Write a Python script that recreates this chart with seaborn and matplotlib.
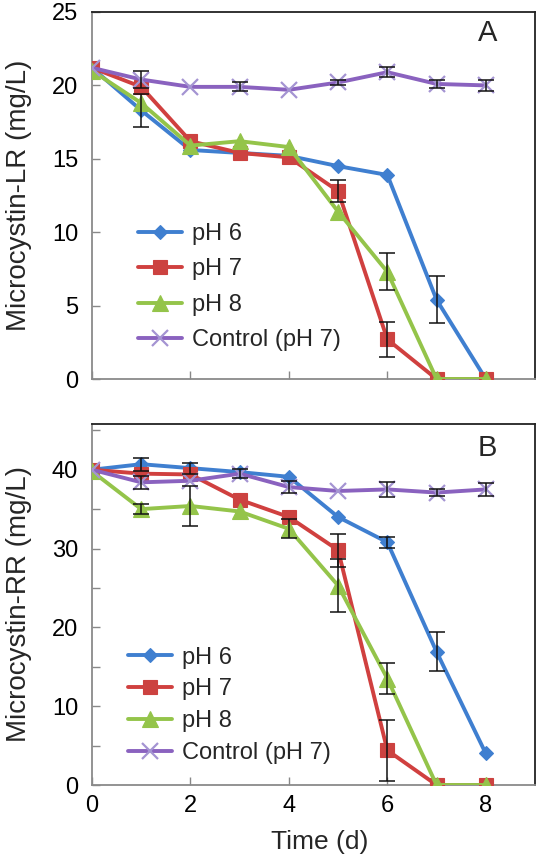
import numpy as np
import pandas as pd
import seaborn as sns
import matplotlib
matplotlib.use("Agg")
import matplotlib.pyplot as plt
from matplotlib.ticker import MultipleLocator

# ---------------- data ----------------
days = [0, 1, 2, 3, 4, 5, 6, 7, 8]
series_names = ["pH 6", "pH 7", "pH 8", "Control (pH 7)"]
legend_labels = ["pH 6", "pH 7", "pH 8", "Control (pH 7)"]

# Panel A: Microcystin-LR (mg/L)
lr_ph6 = [21.2, 18.3, 15.6, 15.4, 15.2, 14.5, 13.9, 5.4, 0.0]
lr_ph7 = [21.2, 19.9, 16.2, 15.4, 15.1, 12.8, 2.7, 0.0, 0.0]
lr_ph8 = [21.0, 18.8, 15.9, 16.2, 15.8, 11.4, 7.3, 0.0, 0.0]
lr_ctrl = [21.2, 20.4, 19.9, 19.9, 19.7, 20.2, 20.9, 20.1, 20.0]

lr_ph6_err = [0, 1.1, 0, 0, 0, 0, 0, 1.6, 0]
lr_ph7_err = [0, 0, 0, 0, 0, 0.75, 1.2, 0, 0]
lr_ph8_err = [0, 0, 0, 0, 0, 0, 1.25, 0, 0]
lr_ctrl_err = [0, 0.6, 0, 0.3, 0, 0.2, 0.35, 0.25, 0.35]

# Panel B: Microcystin-RR (mg/L)
rr_ph6 = [40.0, 40.7, 40.2, 39.7, 39.1, 34.0, 30.8, 16.9, 4.0]
rr_ph7 = [40.0, 39.5, 39.4, 36.2, 34.0, 29.8, 4.4, 0.0, 0.0]
rr_ph8 = [39.8, 35.0, 35.4, 34.7, 32.5, 25.3, 13.5, 0.0, 0.0]
rr_ctrl = [40.0, 38.4, 38.6, 39.5, 37.8, 37.3, 37.5, 37.1, 37.5]

rr_ph6_err = [0, 0.8, 0.7, 0, 0, 0, 0.7, 2.5, 0]
rr_ph7_err = [0, 0, 0, 0, 0, 2.1, 3.9, 0, 0]
rr_ph8_err = [0, 0.6, 2.5, 0, 1.2, 3.4, 2.0, 0, 0]
rr_ctrl_err = [0, 0.8, 0, 0.6, 0.8, 0, 0.9, 0.4, 0.8]

panel_letters = ["A", "B"]
y_labels = ["Microcystin-LR (mg/L)", "Microcystin-RR (mg/L)"]
x_label = "Time (d)"
x_ticks = [0, 2, 4, 6, 8]

# ---------------- style ----------------
sns.set_theme(style="white")
plt.rcParams["font.family"] = ["Liberation Sans", "DejaVu Sans"]

colors = ["#3f7fd0", "#d0403f", "#94c44a", "#8a62bf"]
mfc = ["#3f7fd0", "#cc4240", "#94c44a", "#a494d2"]
markers = ["D", "s", "^", "x"]
msizes = [7.5, 10.5, 11, 11]

W, H = 544, 868
fig = plt.figure(figsize=(W / 100, H / 100), dpi=100)
axA = fig.add_axes([92 / W, 1 - 379 / H, 443 / W, 367 / H])
axB = fig.add_axes([92 / W, 1 - 785 / H, 443 / W, 361 / H])


def draw(ax, vals, errs, ylim, major, minor, letter, letter_y, ylabel,
         leg_anchor, leg_spacing, show_xlabels):
    for i, (name, v) in enumerate(zip(series_names, vals)):
        df = pd.DataFrame({"day": days, "val": v})
        sns.lineplot(data=df, x="day", y="val", ax=ax, color=colors[i],
                     marker=markers[i], markersize=msizes[i],
                     markerfacecolor=mfc[i], markeredgecolor=mfc[i],
                     markeredgewidth=1.6 if markers[i] == "x" else 0.8,
                     linewidth=2.8, label=legend_labels[i], zorder=3 + i)
    for i, (v, e) in enumerate(zip(vals, errs)):
        dd = [d for d, ee in zip(days, e) if ee > 0]
        vv = [y for y, ee in zip(v, e) if ee > 0]
        ee_ = [ee for ee in e if ee > 0]
        ax.errorbar(dd, vv, yerr=ee_, fmt="none", ecolor="#111111",
                    elinewidth=1.1, capsize=5.5, capthick=1.1, zorder=10)

    ax.set_xlim(0, 9)
    ax.set_ylim(*ylim)
    ax.set_xticks(x_ticks)
    ax.yaxis.set_major_locator(MultipleLocator(major))
    if minor:
        ax.yaxis.set_minor_locator(MultipleLocator(minor))
    ax.tick_params(axis="both", which="both", direction="in", length=6,
                   width=1.0, color="#888888", labelsize=17, pad=7,
                   labelcolor="black")
    ax.tick_params(axis="both", which="both", left=True, bottom=True)
    ax.tick_params(axis="y", pad=10)
    if not show_xlabels:
        ax.set_xticklabels([])
    for side in ["left", "bottom"]:
        ax.spines[side].set_color("#8a8a8a")
        ax.spines[side].set_linewidth(1.3)
    for side in ["top", "right"]:
        ax.spines[side].set_color("#222222")
        ax.spines[side].set_linewidth(1.3)
    ax.set_ylabel(ylabel, fontsize=20)
    ax.yaxis.set_label_coords(-0.135, 0.5)
    ax.set_xlabel("")
    ax.text(0.893, letter_y, letter, transform=ax.transAxes, fontsize=21,
            ha="center", va="baseline")
    ax.legend(loc="upper left", bbox_to_anchor=leg_anchor, frameon=False,
              fontsize=17, handlelength=1.85, handletextpad=0.45,
              labelspacing=leg_spacing, borderaxespad=0, borderpad=0,
              numpoints=1)


draw(axA, [lr_ph6, lr_ph7, lr_ph8, lr_ctrl],
     [lr_ph6_err, lr_ph7_err, lr_ph8_err, lr_ctrl_err],
     (0, 25), 5, None, panel_letters[0], 0.922, y_labels[0],
     (0.104, 0.425), 0.57, False)
draw(axB, [rr_ph6, rr_ph7, rr_ph8, rr_ctrl],
     [rr_ph6_err, rr_ph7_err, rr_ph8_err, rr_ctrl_err],
     (0, 45.8), 10, 5, panel_letters[1], 0.912, y_labels[1],
     (0.081, 0.383), 0.41, True)
axB.set_xlabel(x_label, fontsize=19)
axB.xaxis.set_label_coords(0.515, -0.125)

fig.savefig("out.png", dpi=100)
